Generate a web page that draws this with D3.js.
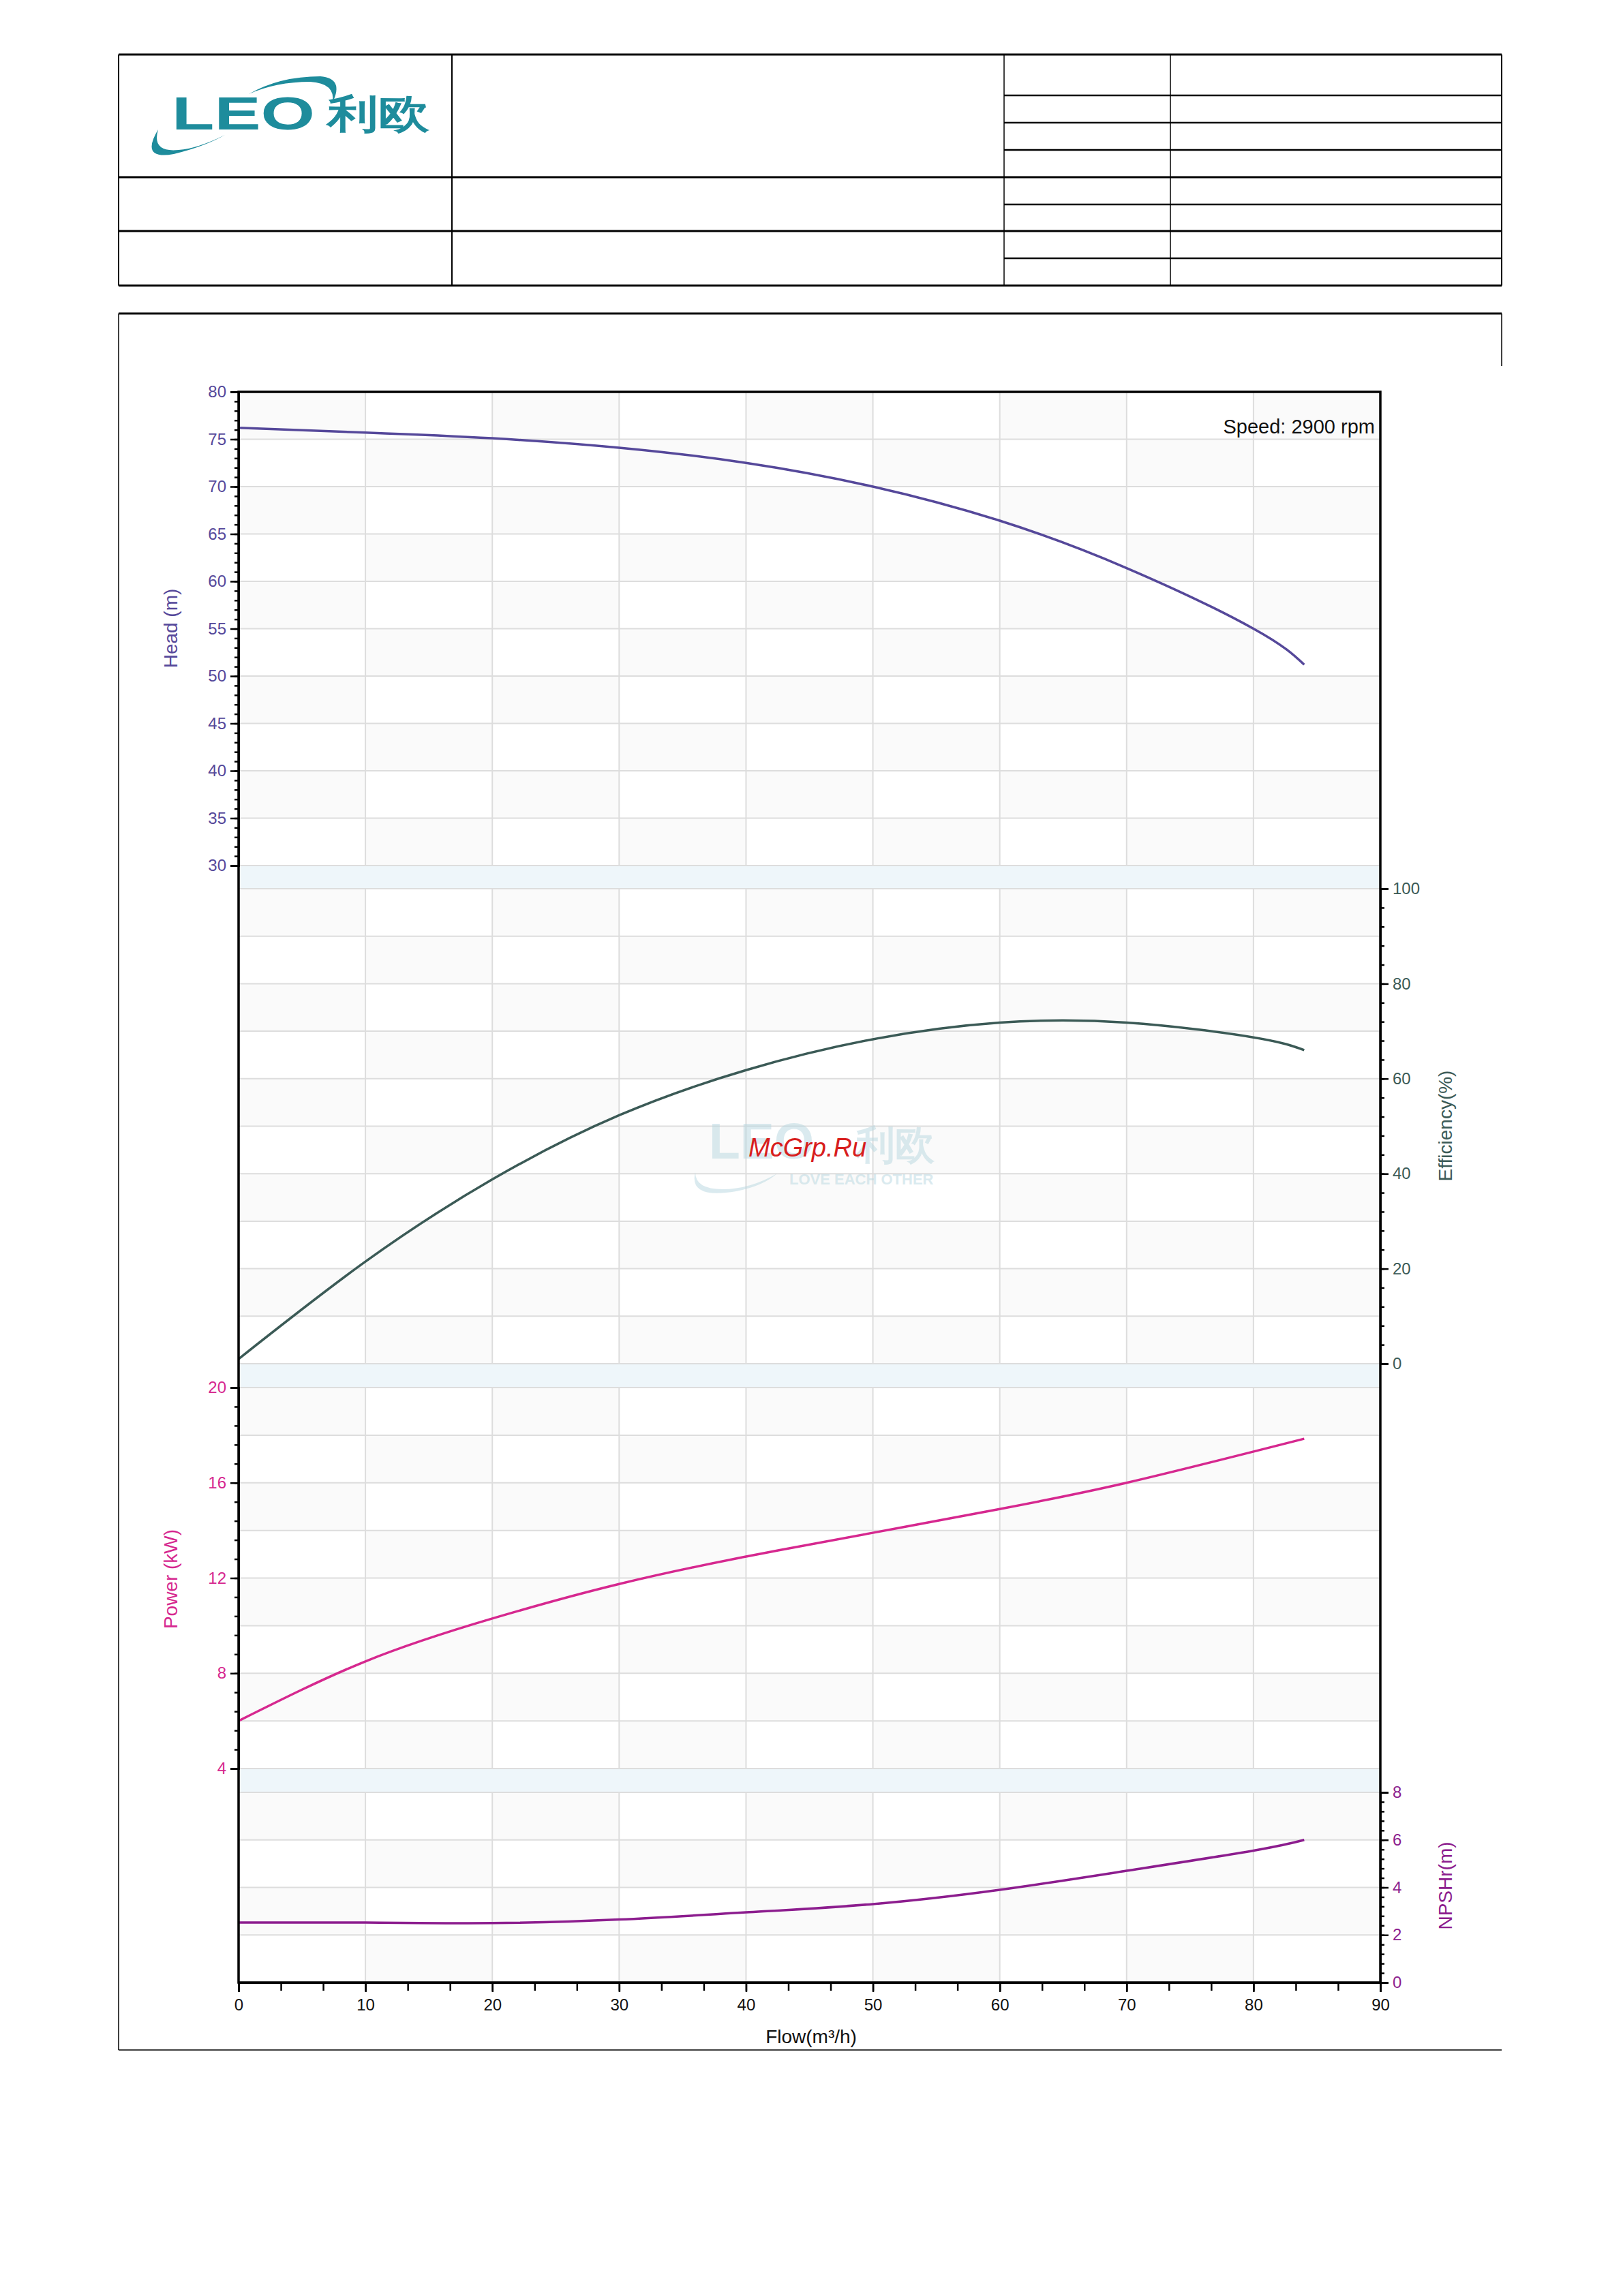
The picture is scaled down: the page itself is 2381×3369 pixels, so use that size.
<!DOCTYPE html>
<html><head><meta charset="utf-8">
<script src="https://cdn.jsdelivr.net/npm/d3@7"></script>
<style>body{margin:0;background:#fff}text{font-family:"Liberation Sans",Arial,sans-serif}</style>
</head><body><div id="chart-area"></div>
<script>
// curve data
var flow = [0, 10, 20, 30, 40, 50, 60, 70, 80, 84]
var head = [76.2, 75.7, 75.1, 74.1, 72.5, 70.0, 66.4, 61.4, 55.0, 51.2]
var effFlow = [0, 10, 20, 30, 40, 50, 60, 70, 80, 84]
var eff = [1, 21.5, 38.8, 52.3, 61.8, 68.3, 71.8, 71.8, 68.7, 66.0]
var powerFlow = [0, 10, 20, 30, 40, 50, 60, 70, 84]
var power = [6.0, 8.5, 10.3, 11.75, 12.9, 13.9, 14.9, 16.0, 17.85]
var npshFlow = [0, 10, 20, 30, 40, 50, 60, 70, 80, 84]
var npsh = [2.52, 2.52, 2.5, 2.65, 2.95, 3.3, 3.9, 4.7, 5.55, 6.0]
var flowTicks = [0, 10, 20, 30, 40, 50, 60, 70, 80, 90]
var headTicks = [30, 35, 40, 45, 50, 55, 60, 65, 70, 75, 80]
var effTicks = [0, 20, 40, 60, 80, 100]
var powerTicks = [4, 8, 12, 16, 20]
var npshTicks = [0, 2, 4, 6, 8]

var W = 2381, H = 3369
var svg = d3.select("#chart-area").append("svg").attr("width", W).attr("height", H)

// header table
var tl = 174, tr = 2203
function line(x1, y1, x2, y2, sw) {
    svg.append("line").attr("x1", x1).attr("y1", y1).attr("x2", x2).attr("y2", y2)
        .attr("stroke", "#000").attr("stroke-width", sw)
}
;[80, 260, 339, 419].forEach(y => line(tl, y, tr, y, 3))
;[140, 180, 220, 300, 379].forEach(y => line(1473, y, tr, y, 2.5))
line(tl, 80, tl, 419, 2); line(tr, 80, tr, 419, 2)
line(663, 80, 663, 419, 2); line(1473, 80, 1473, 419, 1.5); line(1717, 80, 1717, 419, 1.5)

// logo
var logo = svg.append("g")
logo.append("path").attr("d", "M232,190 Q205,235 255,226 Q300,215 330,198 Q290,218 262,220 Q222,224 232,190 Z").attr("fill", "#1e8c9c")
logo.append("path").attr("d", "M365,138 Q410,112 470,112 Q505,115 488,150 Q492,122 455,120 Q405,120 365,138 Z").attr("fill", "#1e8c9c")
logo.append("text").attr("x", 252).attr("y", 190).attr("font-size", 68).attr("font-weight", "bold")
    .attr("textLength", 210).attr("lengthAdjust", "spacingAndGlyphs")
    .attr("fill", "#1e8c9c").text("LEO")
logo.append("text").attr("x", 480).attr("y", 187).attr("font-size", 58).attr("font-weight", "bold")
    .attr("textLength", 150).attr("lengthAdjust", "spacingAndGlyphs")
    .attr("font-family", "Noto Sans CJK SC").attr("fill", "#1e8c9c").text("利欧")

// chart frame
line(tl, 460, tr, 460, 3); line(tl, 460, tl, 3008, 1.5); line(tr, 460, tr, 537, 1.5); line(tl, 3008, tr, 3008, 1.5)

var L = 350, R = 2025
var x = d3.scaleLinear().domain([0, 90]).range([L, R])
var panels = [
    {top: 575, bot: 1270, dom: [30, 80], step: 5},
    {top: 1304, bot: 2001, dom: [0, 100], step: 10},
    {top: 2036, bot: 2595, dom: [4, 20], step: 2},
    {top: 2630, bot: 2909, dom: [0, 8], step: 2}
]
var g = svg.append("g")
panels.forEach(p => {
    p.y = d3.scaleLinear().domain(p.dom).range([p.bot, p.top])
    var rows = d3.range(p.dom[0], p.dom[1], p.step)
    rows.forEach((v, i) => {
        d3.range(0, 90, 10).forEach((c, j) => {
            if ((i + j) % 2 == 1) g.append("rect").attr("x", x(c)).attr("width", x(c + 10) - x(c))
                .attr("y", p.y(v + p.step)).attr("height", p.y(v) - p.y(v + p.step)).attr("fill", "#fafafa")
        })
    })
    d3.range(p.dom[0], p.dom[1] + 0.01, p.step).forEach(v => {
        g.append("line").attr("x1", L).attr("x2", R).attr("y1", p.y(v)).attr("y2", p.y(v)).attr("stroke", "#ddd").attr("stroke-width", 2)
    })
    flowTicks.forEach(f => {
        g.append("line").attr("x1", x(f)).attr("x2", x(f)).attr("y1", p.top).attr("y2", p.bot).attr("stroke", "#ddd").attr("stroke-width", 2)
    })
})
// bands
;[[1270, 1304], [2001, 2036], [2595, 2630]].forEach(b => {
    g.append("rect").attr("x", L).attr("width", R - L).attr("y", b[0]).attr("height", b[1] - b[0])
        .attr("fill", "#eef6fa").attr("stroke", "#ddd").attr("stroke-width", 2)
})

// watermark
var wm = svg.append("g").attr("opacity", 0.5)
wm.append("text").attr("x", 1040).attr("y", 1700).attr("font-size", 75).attr("font-weight", "bold").attr("fill", "#b7d7e0").text("LEO")
wm.append("text").attr("x", 1255).attr("y", 1700).attr("font-size", 58).attr("font-weight", "bold").attr("font-family", "Noto Sans CJK SC").attr("fill", "#b7d7e0").text("利欧")
wm.append("text").attr("x", 1158).attr("y", 1738).attr("font-size", 22).attr("font-weight", "bold").attr("fill", "#b7d7e0").text("LOVE EACH OTHER")
wm.append("path").attr("d", "M1020,1720 Q1010,1760 1080,1748 Q1120,1740 1140,1722 Q1100,1745 1060,1745 Q1020,1745 1020,1720 Z").attr("fill", "#b7d7e0")
svg.append("text").attr("x", 1098).attr("y", 1697).attr("font-size", 38).attr("font-style", "italic")
    .attr("font-family", "DejaVu Sans").attr("fill", "#d81e1e").text("McGrp.Ru")

// curves
function curve(xs, ys, p, col) {
    var pts = xs.map((v, i) => [v, ys[i]])
    g.append("path").datum(pts).attr("fill", "none").attr("stroke", col).attr("stroke-width", 3.5)
        .attr("d", d3.line().x(d => x(d[0])).y(d => p.y(d[1])).curve(d3.curveNatural))
}
var cHead = "#55489a", cEff = "#3b5a56", cPow = "#d6288f", cNp = "#8c1d8e"
curve(flow, head, panels[0], cHead)
curve(effFlow, eff, panels[1], cEff)
curve(powerFlow, power, panels[2], cPow)
curve(npshFlow, npsh, panels[3], cNp)

// plot border
g.append("rect").attr("x", L).attr("y", 575).attr("width", R - L).attr("height", 2909 - 575)
    .attr("fill", "none").attr("stroke", "#000").attr("stroke-width", 3.5)

// axes
function yAxis(p, ticks, col, right) {
    var ax = (right ? d3.axisRight(p.y) : d3.axisLeft(p.y))
    var minor = svg.append("g").attr("transform", "translate(" + (right ? R : L) + ",0)")
        .call(ax.tickValues(d3.range(p.dom[0], p.dom[1] + 0.001, (ticks[1] - ticks[0]) / 5)).tickSize(6).tickFormat(""))
    var major = svg.append("g").attr("transform", "translate(" + (right ? R : L) + ",0)")
        .call((right ? d3.axisRight(p.y) : d3.axisLeft(p.y)).tickValues(ticks).tickSize(12).tickPadding(6))
    ;[minor, major].forEach(a => {
        a.select(".domain").attr("stroke-width", 3)
        a.selectAll(".tick line").attr("stroke-width", 2.5)
    })
    major.selectAll("text").attr("font-size", 24).attr("fill", col).attr("font-family", "Liberation Sans")
}
yAxis(panels[0], headTicks, cHead, false)
yAxis(panels[1], effTicks, cEff, true)
yAxis(panels[2], powerTicks, cPow, false)
yAxis(panels[3], npshTicks, cNp, true)

var xm = svg.append("g").attr("transform", "translate(0,2909)")
    .call(d3.axisBottom(x).tickValues(d3.range(0, 90.01, 10 / 3)).tickSize(12).tickFormat(""))
var xa = svg.append("g").attr("transform", "translate(0,2909)")
    .call(d3.axisBottom(x).tickValues(flowTicks).tickSize(14).tickPadding(10))
;[xm, xa].forEach(a => { a.select(".domain").attr("stroke-width", 3); a.selectAll(".tick line").attr("stroke-width", 2.5) })
xa.selectAll("text").attr("font-size", 24).attr("fill", "#111").attr("font-family", "Liberation Sans")

function label(t, xx, yy, col, rot) {
    svg.append("text").attr("transform", "translate(" + xx + "," + yy + ")" + (rot ? " rotate(-90)" : ""))
        .attr("text-anchor", "middle").attr("font-size", 28).attr("fill", col).text(t)
}
label("Head (m)", 260, 922, cHead, true)
label("Efficiency(%)", 2130, 1652, cEff, true)
label("Power (kW)", 260, 2317, cPow, true)
label("NPSHr(m)", 2130, 2767, cNp, true)
label("Flow(m³/h)", 1190, 2998, "#111", false)
svg.append("text").attr("x", 2017).attr("y", 636).attr("text-anchor", "end").attr("font-size", 29).attr("fill", "#111").text("Speed: 2900 rpm")
</script></body></html>
